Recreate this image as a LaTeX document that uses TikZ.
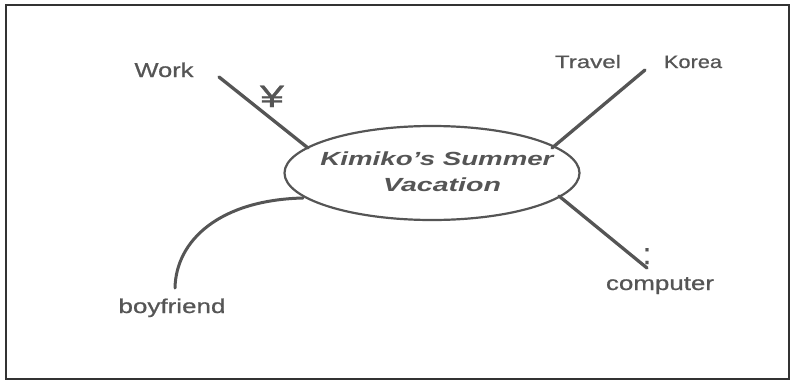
\documentclass[tikz,border=0pt]{standalone}
\usepackage{fontspec}
\setmainfont{Liberation Sans}
\newfontfamily\labfont[FakeBold=0.6]{Liberation Sans}
\usetikzlibrary{shapes.geometric}
\definecolor{ink}{HTML}{555555}
\newcommand\fitw[3]{\resizebox{#1pt}{\height}{\fontsize{#2}{#2}\selectfont #3}}
\begin{document}
\begin{tikzpicture}[x=1pt,y=-1pt,
  branch/.style={draw=ink,line width=3.3pt,line cap=round},
  lbl/.style={text=ink,inner sep=0pt,anchor=base,font=\labfont}]
\useasboundingbox (0,0) rectangle (790,380);
\draw[line width=2pt,black!80] (6,5) rectangle (789,379);
% centre
\node[draw=ink,line width=2.2pt,ellipse,minimum width=295pt,minimum height=94pt,inner sep=0pt] (c) at (432,173) {};
\node[lbl,font=\rmfamily] (t1) at (437,165) {\fitw{233}{19}{\bfseries\itshape Kimiko's Summer}};
\node[lbl,font=\rmfamily] (t2) at (442,191) {\fitw{118}{19}{\bfseries\itshape Vacation}};
% labels
\node[lbl] (work) at (164,77) {\fitw{59}{20}{Work}};
\node[lbl] (yen) at (272,107) {\fitw{24}{31}{¥}};
\node[lbl] (travel) at (588,68) {\fitw{66}{18}{Travel}};
\node[lbl] (korea) at (693,68) {\fitw{58}{18}{Korea}};
\node[lbl] (boy) at (172,313) {\fitw{107}{20}{boyfriend}};
\node[lbl] (comp) at (660,290) {\fitw{108}{20}{computer}};
\node[lbl] (colon) at (647,264) {\fontsize{30}{30}\selectfont :};
% branches
\coordinate (w0) at (219,77);  \coordinate (w1) at (308,148);
\coordinate (k0) at (645,70);  \coordinate (k1) at (552,148);
\coordinate (p0) at (647,268); \coordinate (p1) at (559,196);
\coordinate (b0) at (175,288); \coordinate (b1) at (303,198);
\draw[branch] (w0) -- (w1);
\draw[branch] (k0) -- (k1);
\draw[branch] (p1) -- (p0);
\draw[branch,line width=3pt] (b0) .. controls (176,240) and (220,200) .. (b1);
\end{tikzpicture}
\end{document}
